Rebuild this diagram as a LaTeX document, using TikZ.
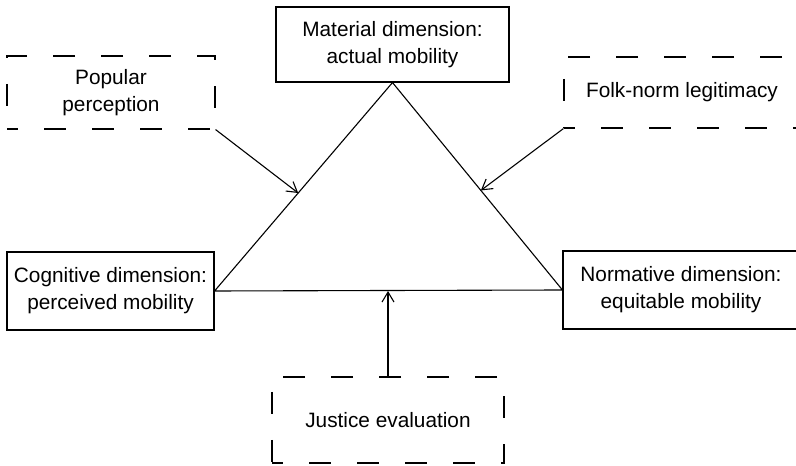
\documentclass[tikz,border=0pt]{standalone}
\usepackage{fontspec}
\setmainfont{Liberation Sans}
\usetikzlibrary{positioning, arrows.meta, calc}

\begin{document}
\begin{tikzpicture}[x=1pt, y=1pt,
            box/.style={draw, line width=1.1pt, inner sep=0pt, align=center, font=\fontsize{20.8}{27}\selectfont},
            dbox/.style={box, dash pattern=on 22pt off 26pt, dash phase=11pt},
            arrow/.style={-{Straight Barb[length=10pt,width=12pt]}, line width=1.1pt}
        ]
            \useasboundingbox (0,0) rectangle (796,466);
            \clip (0,0) rectangle (796,466);

            % dimensions
            \node[box, minimum width=233pt, minimum height=75pt] (mat) at (392.5,421.5) {Material dimension:\\actual mobility};
            \node[box, minimum width=207pt, minimum height=78pt] (cog) at (110.5,175) {Cognitive dimension:\\perceived mobility};
            \node[box, minimum width=236pt, minimum height=78pt] (norm) at (681,176) {Normative dimension:\\equitable mobility};

            % influences
            \node[dbox, minimum width=208pt, minimum height=73pt] (pop) at (111,373.5) {Popular\\perception};
            \node[dbox, minimum width=236pt, minimum height=71pt] (folk) at (682,373.5) {Folk-norm legitimacy};
            \node[dbox, minimum width=232pt, minimum height=86pt] (just) at (388,46) {Justice evaluation};

            \draw[line width=1.1pt] (mat.south) -- (cog.east) -- (norm.west) -- cycle;

            \coordinate (popin) at ($(cog.east)!0.47!(mat.south)$);
            \coordinate (folkin) at ($(norm.west)!0.48!(mat.south)$);
            \coordinate (justin) at (just.north |- cog.east);

            \draw[arrow] (pop.south east) -- (popin);
            \draw[arrow] (folk.south west) -- (folkin);
            \draw[arrow] (just.north) -- (justin);
        \end{tikzpicture}
\end{document}
